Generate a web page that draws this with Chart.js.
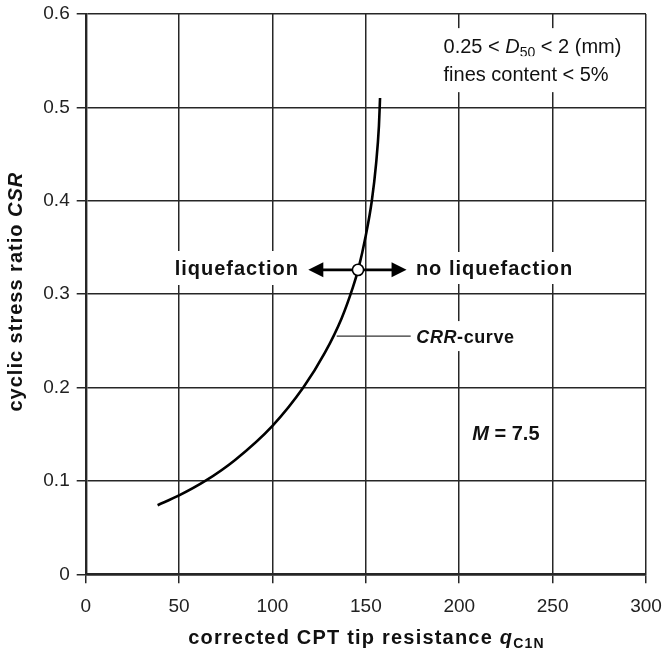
<!DOCTYPE html>
<html>
<head>
<meta charset="utf-8">
<script src="https://cdn.jsdelivr.net/npm/chart.js@4/dist/chart.umd.min.js"></script>
<style>
  body { margin: 0; background: #fff; }
  #wrap { width: 664px; height: 654px; }
</style>
</head>
<body>
<div id="wrap"><canvas id="crrChart" width="664" height="654"></canvas></div>
<script>
// CRR curve (clean sand, M = 7.5)
const qc1n = [38.5, 50, 64, 80, 100, 116.5, 128, 137, 143, 146, 150, 153.2, 155.5, 157, 157.6];
const crr  = [0.074, 0.0845, 0.1, 0.1225, 0.159, 0.2, 0.237, 0.274, 0.307, 0.327, 0.363, 0.4, 0.44, 0.48, 0.51];

// point marked on the curve, and the two arrow tips either side of it
const markQ = [145.8];
const markCSR = [0.326];
const arrowTips = [119.2, 171.8];

// axis ticks
const xTicks = [0, 50, 100, 150, 200, 250, 300];
const yTicks = [0, 0.1, 0.2, 0.3, 0.4, 0.5, 0.6];

const FONT = "'Liberation Sans', Arial, Helvetica, sans-serif";
const INK = '#111';
const GRID = '#262626';

// text pieces: [text, style, size, baseline shift]
const noteLine1 = [['0.25 < ', '', 20, 0], ['D', 'italic', 20, 0], ['50', '', 14, 4], [' < 2 (mm)', '', 20, 0]];
const noteLine2 = [['fines content < 5%', '', 20, 0]];
const liqText = [['liquefaction', 'bold', 20, 0]];
const noLiqText = [['no liquefaction', 'bold', 20, 0]];
const crrText = [['CRR', 'italic bold', 18, 0], ['-curve', 'bold', 18, 0]];
const magText = [['M', 'italic bold', 20, 0], [' = 7.5', 'bold', 20, 0]];
const xTitle = [['corrected CPT tip resistance ', 'bold', 20, 0], ['q', 'italic bold', 20, 0], ['C1N', 'bold', 14, 4]];
const yTitle = [['cyclic stress ratio ', 'bold', 20, 0], ['CSR', 'italic bold', 20, 0]];

function fontOf(p) { return (p[1] ? p[1] + ' ' : '') + p[2] + 'px ' + FONT; }

function richWidth(ctx, parts, spacing) {
  let w = 0;
  ctx.letterSpacing = spacing + 'px';
  parts.forEach(p => { ctx.font = fontOf(p); w += ctx.measureText(p[0]).width; });
  return w - spacing;
}

// draws mixed-style text; (x, cy) is the anchor point, cy the middle of the capitals
function drawRich(ctx, parts, x, cy, align, spacing, box) {
  const w = richWidth(ctx, parts, spacing);
  let left = x;
  if (align === 'center') left = x - w / 2;
  if (align === 'right') left = x - w;
  if (box) {
    ctx.fillStyle = '#fff';
    ctx.fillRect(left - 4, cy - box, w + 8, box * 2);
  }
  const base = cy + parts[0][2] * 0.36;
  ctx.fillStyle = INK;
  ctx.textAlign = 'left';
  ctx.textBaseline = 'alphabetic';
  ctx.letterSpacing = spacing + 'px';
  parts.forEach(p => {
    ctx.font = fontOf(p);
    ctx.fillText(p[0], left, base + p[3]);
    left += ctx.measureText(p[0]).width;
  });
}

function arrowHead(ctx, tipX, y, dir) {
  ctx.beginPath();
  ctx.moveTo(tipX, y);
  ctx.lineTo(tipX - dir * 15, y - 7.5);
  ctx.lineTo(tipX - dir * 15, y + 7.5);
  ctx.closePath();
  ctx.fill();
}

const annotations = {
  id: 'annotations',
  beforeDatasetsDraw(chart) {
    const { ctx, scales: { x, y }, chartArea } = chart;
    ctx.save();

    // labels sit on white so the grid breaks around them
    drawRich(ctx, noteLine1, x.getPixelForValue(191.6), y.getPixelForValue(0.5656), 'left', 0, 18);
    drawRich(ctx, noteLine2, x.getPixelForValue(191.6), y.getPixelForValue(0.5356), 'left', 0, 18);
    drawRich(ctx, liqText, x.getPixelForValue(113.6), y.getPixelForValue(0.328), 'right', 1, 17);
    drawRich(ctx, noLiqText, x.getPixelForValue(176.8), y.getPixelForValue(0.328), 'left', 1, 16);
    drawRich(ctx, crrText, x.getPixelForValue(177), y.getPixelForValue(0.2551), 'left', 0.6, 15);
    drawRich(ctx, magText, x.getPixelForValue(225), y.getPixelForValue(0.1513), 'center', 0, 0);

    // leader from the curve to its label
    const ly = y.getPixelForValue(0.2551);
    ctx.strokeStyle = '#333';
    ctx.lineWidth = 1.2;
    ctx.beginPath();
    ctx.moveTo(x.getPixelForValue(134.4), ly);
    ctx.lineTo(x.getPixelForValue(174), ly);
    ctx.stroke();

    // double arrow through the marked point
    const ay = y.getPixelForValue(markCSR[0]);
    const l = x.getPixelForValue(arrowTips[0]);
    const r = x.getPixelForValue(arrowTips[1]);
    ctx.strokeStyle = '#000';
    ctx.fillStyle = '#000';
    ctx.lineWidth = 2.6;
    ctx.beginPath();
    ctx.moveTo(l + 10, ay);
    ctx.lineTo(r - 10, ay);
    ctx.stroke();
    arrowHead(ctx, l, ay, -1);
    arrowHead(ctx, r, ay, 1);

    // axis titles
    drawRich(ctx, xTitle, (chartArea.left + chartArea.right) / 2, chartArea.bottom + 62.5, 'center', 1.2, 0);
    ctx.translate(15, (chartArea.top + chartArea.bottom) / 2 - 2);
    ctx.rotate(-Math.PI / 2);
    drawRich(ctx, yTitle, 0, 0, 'center', 1, 0);
    ctx.restore();
  }
};

new Chart(document.getElementById('crrChart'), {
  type: 'scatter',
  data: {
    datasets: [
      {
        label: 'mark',
        data: markQ.map((q, i) => ({ x: q, y: markCSR[i] })),
        pointRadius: 5.6,
        pointBackgroundColor: '#fff',
        pointBorderColor: '#000',
        pointBorderWidth: 1.6,
        showLine: false,
        order: 0
      },
      {
        label: 'CRR',
        data: qc1n.map((q, i) => ({ x: q, y: crr[i] })),
        showLine: true,
        borderColor: '#000',
        borderWidth: 2.6,
        pointRadius: 0,
        cubicInterpolationMode: 'monotone',
        order: 1
      }
    ]
  },
  options: {
    responsive: false,
    animation: false,
    layout: { padding: { top: 14, right: 18, left: 0, bottom: 0 } },
    plugins: { legend: { display: false }, tooltip: { enabled: false } },
    scales: {
      x: {
        type: 'linear',
        min: 0, max: 300,
        afterBuildTicks: s => { s.ticks = xTicks.map(v => ({ value: v })); },
        afterFit: s => { s.height = 79.7; s.paddingLeft = 0; s.paddingRight = 0; },
        grid: { color: GRID, lineWidth: 1.5, tickLength: 9 },
        border: { color: GRID, width: 2.4 },
        ticks: { color: '#222', font: { size: 19, family: FONT }, padding: 12, maxRotation: 0, autoSkip: false }
      },
      y: {
        type: 'linear',
        min: 0, max: 0.6,
        afterBuildTicks: s => { s.ticks = yTicks.map(v => ({ value: v })); },
        afterFit: s => { s.width = 85.7; s.paddingTop = 0; s.paddingBottom = 0; },
        grid: { color: GRID, lineWidth: 1.5, tickLength: 9 },
        border: { color: GRID, width: 2.4 },
        ticks: { color: '#222', font: { size: 19, family: FONT }, padding: 7, callback: v => String(Math.round(v * 10) / 10) }
      }
    }
  },
  plugins: [annotations]
});
</script>
</body>
</html>
